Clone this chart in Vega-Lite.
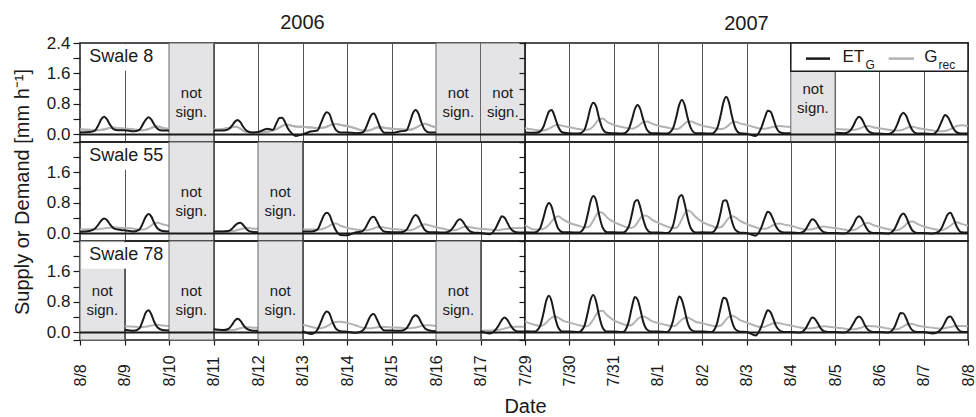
{
"$schema":"https://vega.github.io/schema/vega-lite/v6.json",
"padding":{"left":11,"top":12,"right":0,"bottom":0},
"columns":2,"spacing":0,"bounds":"flush",
"config":{
 "view":{"stroke":"#1a1a1a","strokeWidth":1.5},
 "font":"Liberation Sans",
 "text":{"color":"#1a1a1a"},
 "axis":{"labelColor":"#1a1a1a","titleColor":"#1a1a1a","tickColor":"#1a1a1a","tickWidth":1.2,"titleFontWeight":"normal","titleFontSize":20,"domain":false,"labelFlush":false,"labelOverlap":false,"labelBound":false,"gridColor":"#555555","gridWidth":1,"gridOpacity":1},
 "title":{"fontSize":20,"fontWeight":"normal","color":"#1a1a1a","offset":8,"frame":"group"}
},
"datasets":{
"ns":[
{"p":"8a","a":"2006-08-10 00:00","b":"2006-08-11 00:00","m":"2006-08-10 12:00"},
{"p":"8a","a":"2006-08-16 00:00","b":"2006-08-17 00:00","m":"2006-08-16 12:00"},
{"p":"8a","a":"2006-08-17 00:00","b":"2006-08-18 00:00","m":"2006-08-17 12:00"},
{"p":"8b","a":"2007-08-04 00:00","b":"2007-08-05 00:00","m":"2007-08-04 12:00"},
{"p":"55a","a":"2006-08-10 00:00","b":"2006-08-11 00:00","m":"2006-08-10 12:00"},
{"p":"55a","a":"2006-08-12 00:00","b":"2006-08-13 00:00","m":"2006-08-12 12:00"},
{"p":"78a","a":"2006-08-08 00:00","b":"2006-08-09 00:00","m":"2006-08-08 12:00"},
{"p":"78a","a":"2006-08-10 00:00","b":"2006-08-11 00:00","m":"2006-08-10 12:00"},
{"p":"78a","a":"2006-08-12 00:00","b":"2006-08-13 00:00","m":"2006-08-12 12:00"},
{"p":"78a","a":"2006-08-16 00:00","b":"2006-08-17 00:00","m":"2006-08-16 12:00"}
],
"s8a":[
{"t":"2006-08-08 00:00","e":0.05,"g":0.13,"s":1},{"t":"2006-08-08 05:00","e":0.06,"g":0.12,"s":1},{"t":"2006-08-08 08:00","e":0.1,"g":0.11,"s":1},{"t":"2006-08-08 10:00","e":0.25,"g":0.11,"s":1},{"t":"2006-08-08 11:30","e":0.4,"g":0.12,"s":1},{"t":"2006-08-08 13:00","e":0.46,"g":0.13,"s":1},{"t":"2006-08-08 14:30","e":0.4,"g":0.15,"s":1},{"t":"2006-08-08 16:00","e":0.27,"g":0.17,"s":1},{"t":"2006-08-08 18:00","e":0.14,"g":0.18,"s":1},{"t":"2006-08-08 20:30","e":0.11,"g":0.16,"s":1},
{"t":"2006-08-09 00:00","e":0.11,"g":0.15,"s":1},{"t":"2006-08-09 05:00","e":0.08,"g":0.13,"s":1},{"t":"2006-08-09 08:00","e":0.12,"g":0.11,"s":1},{"t":"2006-08-09 10:00","e":0.27,"g":0.11,"s":1},{"t":"2006-08-09 11:30","e":0.39,"g":0.12,"s":1},{"t":"2006-08-09 13:00","e":0.45,"g":0.14,"s":1},{"t":"2006-08-09 14:30","e":0.39,"g":0.17,"s":1},{"t":"2006-08-09 16:00","e":0.26,"g":0.2,"s":1},{"t":"2006-08-09 18:00","e":0.14,"g":0.21,"s":1},{"t":"2006-08-09 20:30","e":0.1,"g":0.17,"s":1},
{"t":"2006-08-10 00:00","e":0.1,"g":0.14,"s":1},
{"t":"2006-08-11 00:00","e":0.1,"g":0.12,"s":2},{"t":"2006-08-11 05:00","e":0.1,"g":0.14,"s":2},{"t":"2006-08-11 08:00","e":0.13,"g":0.17,"s":2},{"t":"2006-08-11 10:00","e":0.23,"g":0.19,"s":2},{"t":"2006-08-11 11:30","e":0.33,"g":0.2,"s":2},{"t":"2006-08-11 13:00","e":0.38,"g":0.19,"s":2},{"t":"2006-08-11 14:30","e":0.32,"g":0.15,"s":2},{"t":"2006-08-11 16:00","e":0.2,"g":0.1,"s":2},{"t":"2006-08-11 18:00","e":0.09,"g":0.06,"s":2},{"t":"2006-08-11 20:30","e":0.05,"g":0.05,"s":2},
{"t":"2006-08-12 00:00","e":0.06,"g":0.05,"s":2},{"t":"2006-08-12 05:00","e":0.15,"g":0.07,"s":2},{"t":"2006-08-12 08:00","e":0.12,"g":0.1,"s":2},{"t":"2006-08-12 10:00","e":0.3,"g":0.14,"s":2},{"t":"2006-08-12 11:30","e":0.43,"g":0.18,"s":2},{"t":"2006-08-12 13:00","e":0.44,"g":0.22,"s":2},{"t":"2006-08-12 14:30","e":0.33,"g":0.25,"s":2},{"t":"2006-08-12 16:00","e":0.17,"g":0.25,"s":2},{"t":"2006-08-12 18:00","e":0.04,"g":0.23,"s":2},{"t":"2006-08-12 20:30","e":-0.04,"g":0.21,"s":2},
{"t":"2006-08-13 00:00","e":0.0,"g":0.2,"s":2},{"t":"2006-08-13 05:00","e":0.08,"g":0.18,"s":2},{"t":"2006-08-13 08:00","e":0.1,"g":0.17,"s":2},{"t":"2006-08-13 10:00","e":0.3,"g":0.17,"s":2},{"t":"2006-08-13 11:30","e":0.48,"g":0.18,"s":2},{"t":"2006-08-13 13:00","e":0.58,"g":0.2,"s":2},{"t":"2006-08-13 14:30","e":0.54,"g":0.23,"s":2},{"t":"2006-08-13 16:00","e":0.33,"g":0.26,"s":2},{"t":"2006-08-13 18:00","e":0.12,"g":0.27,"s":2},{"t":"2006-08-13 20:30","e":0.05,"g":0.25,"s":2},
{"t":"2006-08-14 00:00","e":0.05,"g":0.22,"s":2},{"t":"2006-08-14 05:00","e":0.03,"g":0.15,"s":2},{"t":"2006-08-14 08:00","e":0.04,"g":0.1,"s":2},{"t":"2006-08-14 10:00","e":0.15,"g":0.09,"s":2},{"t":"2006-08-14 11:30","e":0.33,"g":0.1,"s":2},{"t":"2006-08-14 13:00","e":0.5,"g":0.12,"s":2},{"t":"2006-08-14 14:30","e":0.55,"g":0.15,"s":2},{"t":"2006-08-14 16:00","e":0.42,"g":0.18,"s":2},{"t":"2006-08-14 18:00","e":0.17,"g":0.19,"s":2},{"t":"2006-08-14 20:30","e":0.04,"g":0.17,"s":2},
{"t":"2006-08-15 00:00","e":0.04,"g":0.15,"s":2},{"t":"2006-08-15 05:00","e":0.08,"g":0.13,"s":2},{"t":"2006-08-15 08:00","e":0.1,"g":0.12,"s":2},{"t":"2006-08-15 10:00","e":0.33,"g":0.12,"s":2},{"t":"2006-08-15 11:30","e":0.55,"g":0.14,"s":2},{"t":"2006-08-15 13:00","e":0.64,"g":0.17,"s":2},{"t":"2006-08-15 14:30","e":0.55,"g":0.21,"s":2},{"t":"2006-08-15 16:00","e":0.33,"g":0.25,"s":2},{"t":"2006-08-15 18:00","e":0.12,"g":0.28,"s":2},{"t":"2006-08-15 20:30","e":0.05,"g":0.24,"s":2},
{"t":"2006-08-16 00:00","e":0.05,"g":0.18,"s":2}
],
"s8b":[
{"t":"2007-07-29 00:00","e":0.05,"g":0.16,"s":1},{"t":"2007-07-29 05:00","e":0.04,"g":0.12,"s":1},{"t":"2007-07-29 08:00","e":0.07,"g":0.1,"s":1},{"t":"2007-07-29 10:00","e":0.2,"g":0.1,"s":1},{"t":"2007-07-29 11:30","e":0.41,"g":0.12,"s":1},{"t":"2007-07-29 13:00","e":0.6,"g":0.15,"s":1},{"t":"2007-07-29 14:30","e":0.64,"g":0.19,"s":1},{"t":"2007-07-29 16:00","e":0.48,"g":0.23,"s":1},{"t":"2007-07-29 18:00","e":0.2,"g":0.25,"s":1},{"t":"2007-07-29 20:30","e":0.05,"g":0.22,"s":1},
{"t":"2007-07-30 00:00","e":0.03,"g":0.19,"s":1},{"t":"2007-07-30 05:00","e":0.02,"g":0.14,"s":1},{"t":"2007-07-30 08:00","e":0.1,"g":0.12,"s":1},{"t":"2007-07-30 10:00","e":0.4,"g":0.12,"s":1},{"t":"2007-07-30 11:30","e":0.7,"g":0.15,"s":1},{"t":"2007-07-30 13:00","e":0.83,"g":0.21,"s":1},{"t":"2007-07-30 14:30","e":0.74,"g":0.3,"s":1},{"t":"2007-07-30 16:00","e":0.45,"g":0.39,"s":1},{"t":"2007-07-30 18:00","e":0.15,"g":0.42,"s":1},{"t":"2007-07-30 20:30","e":0.04,"g":0.33,"s":1},
{"t":"2007-07-31 00:00","e":0.03,"g":0.25,"s":1},{"t":"2007-07-31 05:00","e":0.02,"g":0.19,"s":1},{"t":"2007-07-31 08:00","e":0.12,"g":0.16,"s":1},{"t":"2007-07-31 10:00","e":0.4,"g":0.15,"s":1},{"t":"2007-07-31 11:30","e":0.66,"g":0.17,"s":1},{"t":"2007-07-31 13:00","e":0.77,"g":0.21,"s":1},{"t":"2007-07-31 14:30","e":0.66,"g":0.27,"s":1},{"t":"2007-07-31 16:00","e":0.4,"g":0.32,"s":1},{"t":"2007-07-31 18:00","e":0.13,"g":0.34,"s":1},{"t":"2007-07-31 20:30","e":0.03,"g":0.29,"s":1},
{"t":"2007-08-01 00:00","e":0.03,"g":0.23,"s":1},{"t":"2007-08-01 05:00","e":0.02,"g":0.18,"s":1},{"t":"2007-08-01 08:00","e":0.14,"g":0.15,"s":1},{"t":"2007-08-01 10:00","e":0.46,"g":0.14,"s":1},{"t":"2007-08-01 11:30","e":0.77,"g":0.16,"s":1},{"t":"2007-08-01 13:00","e":0.9,"g":0.21,"s":1},{"t":"2007-08-01 14:30","e":0.77,"g":0.28,"s":1},{"t":"2007-08-01 16:00","e":0.46,"g":0.33,"s":1},{"t":"2007-08-01 18:00","e":0.15,"g":0.34,"s":1},{"t":"2007-08-01 20:30","e":0.03,"g":0.29,"s":1},
{"t":"2007-08-02 00:00","e":0.03,"g":0.23,"s":1},{"t":"2007-08-02 05:00","e":0.02,"g":0.18,"s":1},{"t":"2007-08-02 08:00","e":0.15,"g":0.15,"s":1},{"t":"2007-08-02 10:00","e":0.5,"g":0.14,"s":1},{"t":"2007-08-02 11:30","e":0.84,"g":0.15,"s":1},{"t":"2007-08-02 13:00","e":0.99,"g":0.19,"s":1},{"t":"2007-08-02 14:30","e":0.84,"g":0.25,"s":1},{"t":"2007-08-02 16:00","e":0.5,"g":0.31,"s":1},{"t":"2007-08-02 18:00","e":0.16,"g":0.33,"s":1},{"t":"2007-08-02 20:30","e":0.03,"g":0.29,"s":1},
{"t":"2007-08-03 00:00","e":0.02,"g":0.25,"s":1},{"t":"2007-08-03 05:00","e":-0.04,"g":0.18,"s":1},{"t":"2007-08-03 08:00","e":0.17,"g":0.15,"s":1},{"t":"2007-08-03 10:00","e":0.45,"g":0.15,"s":1},{"t":"2007-08-03 11:30","e":0.62,"g":0.16,"s":1},{"t":"2007-08-03 13:00","e":0.6,"g":0.18,"s":1},{"t":"2007-08-03 14:30","e":0.42,"g":0.2,"s":1},{"t":"2007-08-03 16:00","e":0.2,"g":0.21,"s":1},{"t":"2007-08-03 18:00","e":0.06,"g":0.22,"s":1},{"t":"2007-08-03 20:30","e":0.03,"g":0.21,"s":1},
{"t":"2007-08-04 00:00","e":0.03,"g":0.2,"s":1},
{"t":"2007-08-05 00:00","e":0.04,"g":0.14,"s":2},{"t":"2007-08-05 05:00","e":0.03,"g":0.13,"s":2},{"t":"2007-08-05 08:00","e":0.09,"g":0.12,"s":2},{"t":"2007-08-05 10:00","e":0.24,"g":0.12,"s":2},{"t":"2007-08-05 11:30","e":0.39,"g":0.13,"s":2},{"t":"2007-08-05 13:00","e":0.46,"g":0.15,"s":2},{"t":"2007-08-05 14:30","e":0.4,"g":0.18,"s":2},{"t":"2007-08-05 16:00","e":0.25,"g":0.21,"s":2},{"t":"2007-08-05 18:00","e":0.09,"g":0.22,"s":2},{"t":"2007-08-05 20:30","e":0.03,"g":0.19,"s":2},
{"t":"2007-08-06 00:00","e":0.02,"g":0.16,"s":2},{"t":"2007-08-06 05:00","e":0.01,"g":0.12,"s":2},{"t":"2007-08-06 08:00","e":0.1,"g":0.1,"s":2},{"t":"2007-08-06 10:00","e":0.3,"g":0.1,"s":2},{"t":"2007-08-06 11:30","e":0.49,"g":0.11,"s":2},{"t":"2007-08-06 13:00","e":0.57,"g":0.13,"s":2},{"t":"2007-08-06 14:30","e":0.49,"g":0.16,"s":2},{"t":"2007-08-06 16:00","e":0.3,"g":0.19,"s":2},{"t":"2007-08-06 18:00","e":0.1,"g":0.2,"s":2},{"t":"2007-08-06 20:30","e":0.02,"g":0.17,"s":2},
{"t":"2007-08-07 00:00","e":0.02,"g":0.14,"s":2},{"t":"2007-08-07 05:00","e":0.01,"g":0.1,"s":2},{"t":"2007-08-07 08:00","e":0.15,"g":0.08,"s":2},{"t":"2007-08-07 10:00","e":0.37,"g":0.08,"s":2},{"t":"2007-08-07 11:30","e":0.51,"g":0.09,"s":2},{"t":"2007-08-07 13:00","e":0.46,"g":0.11,"s":2},{"t":"2007-08-07 14:30","e":0.32,"g":0.14,"s":2},{"t":"2007-08-07 16:00","e":0.16,"g":0.18,"s":2},{"t":"2007-08-07 18:00","e":0.05,"g":0.22,"s":2},{"t":"2007-08-07 20:30","e":0.02,"g":0.24,"s":2},
{"t":"2007-08-08 00:00","e":0.02,"g":0.22,"s":2}
],
"s55a":[
{"t":"2006-08-08 00:00","e":0.04,"g":0.1,"s":1},{"t":"2006-08-08 05:00","e":0.06,"g":0.11,"s":1},{"t":"2006-08-08 08:00","e":0.12,"g":0.11,"s":1},{"t":"2006-08-08 10:00","e":0.24,"g":0.11,"s":1},{"t":"2006-08-08 11:30","e":0.34,"g":0.12,"s":1},{"t":"2006-08-08 13:00","e":0.39,"g":0.13,"s":1},{"t":"2006-08-08 14:30","e":0.35,"g":0.14,"s":1},{"t":"2006-08-08 16:00","e":0.25,"g":0.15,"s":1},{"t":"2006-08-08 18:00","e":0.14,"g":0.16,"s":1},{"t":"2006-08-08 20:30","e":0.1,"g":0.15,"s":1},
{"t":"2006-08-09 00:00","e":0.08,"g":0.14,"s":1},{"t":"2006-08-09 05:00","e":0.05,"g":0.12,"s":1},{"t":"2006-08-09 08:00","e":0.1,"g":0.1,"s":1},{"t":"2006-08-09 10:00","e":0.28,"g":0.1,"s":1},{"t":"2006-08-09 11:30","e":0.44,"g":0.12,"s":1},{"t":"2006-08-09 13:00","e":0.51,"g":0.16,"s":1},{"t":"2006-08-09 14:30","e":0.44,"g":0.21,"s":1},{"t":"2006-08-09 16:00","e":0.28,"g":0.26,"s":1},{"t":"2006-08-09 18:00","e":0.12,"g":0.28,"s":1},{"t":"2006-08-09 20:30","e":0.06,"g":0.24,"s":1},
{"t":"2006-08-10 00:00","e":0.05,"g":0.2,"s":1},
{"t":"2006-08-11 00:00","e":0.05,"g":0.05,"s":2},{"t":"2006-08-11 05:00","e":0.05,"g":0.05,"s":2},{"t":"2006-08-11 08:00","e":0.06,"g":0.05,"s":2},{"t":"2006-08-11 10:00","e":0.12,"g":0.06,"s":2},{"t":"2006-08-11 11:30","e":0.2,"g":0.07,"s":2},{"t":"2006-08-11 13:00","e":0.26,"g":0.09,"s":2},{"t":"2006-08-11 14:30","e":0.28,"g":0.11,"s":2},{"t":"2006-08-11 16:00","e":0.22,"g":0.13,"s":2},{"t":"2006-08-11 18:00","e":0.1,"g":0.15,"s":2},{"t":"2006-08-11 20:30","e":0.04,"g":0.13,"s":2},
{"t":"2006-08-12 00:00","e":0.03,"g":0.12,"s":2},
{"t":"2006-08-13 00:00","e":0.05,"g":0.1,"s":3},{"t":"2006-08-13 05:00","e":0.05,"g":0.1,"s":3},{"t":"2006-08-13 08:00","e":0.1,"g":0.1,"s":3},{"t":"2006-08-13 10:00","e":0.3,"g":0.11,"s":3},{"t":"2006-08-13 11:30","e":0.47,"g":0.13,"s":3},{"t":"2006-08-13 13:00","e":0.54,"g":0.16,"s":3},{"t":"2006-08-13 14:30","e":0.49,"g":0.2,"s":3},{"t":"2006-08-13 16:00","e":0.3,"g":0.24,"s":3},{"t":"2006-08-13 18:00","e":0.08,"g":0.26,"s":3},{"t":"2006-08-13 20:30","e":-0.04,"g":0.2,"s":3},
{"t":"2006-08-14 00:00","e":-0.05,"g":0.15,"s":3},{"t":"2006-08-14 05:00","e":0.03,"g":0.1,"s":3},{"t":"2006-08-14 08:00","e":0.05,"g":0.08,"s":3},{"t":"2006-08-14 10:00","e":0.15,"g":0.08,"s":3},{"t":"2006-08-14 11:30","e":0.29,"g":0.09,"s":3},{"t":"2006-08-14 13:00","e":0.41,"g":0.11,"s":3},{"t":"2006-08-14 14:30","e":0.44,"g":0.13,"s":3},{"t":"2006-08-14 16:00","e":0.33,"g":0.16,"s":3},{"t":"2006-08-14 18:00","e":0.14,"g":0.17,"s":3},{"t":"2006-08-14 20:30","e":0.04,"g":0.15,"s":3},
{"t":"2006-08-15 00:00","e":0.03,"g":0.12,"s":3},{"t":"2006-08-15 05:00","e":0.03,"g":0.1,"s":3},{"t":"2006-08-15 08:00","e":0.09,"g":0.08,"s":3},{"t":"2006-08-15 10:00","e":0.26,"g":0.08,"s":3},{"t":"2006-08-15 11:30","e":0.41,"g":0.1,"s":3},{"t":"2006-08-15 13:00","e":0.48,"g":0.13,"s":3},{"t":"2006-08-15 14:30","e":0.42,"g":0.17,"s":3},{"t":"2006-08-15 16:00","e":0.26,"g":0.21,"s":3},{"t":"2006-08-15 18:00","e":0.09,"g":0.24,"s":3},{"t":"2006-08-15 20:30","e":0.03,"g":0.21,"s":3},
{"t":"2006-08-16 00:00","e":0.03,"g":0.16,"s":3},{"t":"2006-08-16 05:00","e":0.02,"g":0.11,"s":3},{"t":"2006-08-16 08:00","e":0.08,"g":0.08,"s":3},{"t":"2006-08-16 10:00","e":0.21,"g":0.08,"s":3},{"t":"2006-08-16 11:30","e":0.33,"g":0.1,"s":3},{"t":"2006-08-16 13:00","e":0.37,"g":0.13,"s":3},{"t":"2006-08-16 14:30","e":0.31,"g":0.16,"s":3},{"t":"2006-08-16 16:00","e":0.19,"g":0.18,"s":3},{"t":"2006-08-16 18:00","e":0.07,"g":0.17,"s":3},{"t":"2006-08-16 20:30","e":0.02,"g":0.14,"s":3},
{"t":"2006-08-17 00:00","e":0.01,"g":0.12,"s":3},{"t":"2006-08-17 05:00","e":-0.02,"g":0.1,"s":3},{"t":"2006-08-17 08:00","e":0.12,"g":0.09,"s":3},{"t":"2006-08-17 10:00","e":0.32,"g":0.09,"s":3},{"t":"2006-08-17 11:30","e":0.45,"g":0.1,"s":3},{"t":"2006-08-17 13:00","e":0.41,"g":0.11,"s":3},{"t":"2006-08-17 14:30","e":0.28,"g":0.12,"s":3},{"t":"2006-08-17 16:00","e":0.14,"g":0.13,"s":3},{"t":"2006-08-17 18:00","e":0.05,"g":0.14,"s":3},{"t":"2006-08-17 20:30","e":0.02,"g":0.14,"s":3},
{"t":"2006-08-18 00:00","e":0.02,"g":0.14,"s":3}
],
"s55b":[
{"t":"2007-07-29 00:00","e":0.03,"g":0.22,"s":1},{"t":"2007-07-29 05:00","e":0.02,"g":0.1,"s":1},{"t":"2007-07-29 08:00","e":0.12,"g":0.1,"s":1},{"t":"2007-07-29 10:00","e":0.41,"g":0.12,"s":1},{"t":"2007-07-29 11:30","e":0.68,"g":0.16,"s":1},{"t":"2007-07-29 13:00","e":0.8,"g":0.23,"s":1},{"t":"2007-07-29 14:30","e":0.69,"g":0.32,"s":1},{"t":"2007-07-29 16:00","e":0.41,"g":0.4,"s":1},{"t":"2007-07-29 18:00","e":0.13,"g":0.45,"s":1},{"t":"2007-07-29 20:30","e":0.03,"g":0.37,"s":1},
{"t":"2007-07-30 00:00","e":0.03,"g":0.28,"s":1},{"t":"2007-07-30 05:00","e":0.02,"g":0.2,"s":1},{"t":"2007-07-30 08:00","e":0.15,"g":0.16,"s":1},{"t":"2007-07-30 10:00","e":0.5,"g":0.16,"s":1},{"t":"2007-07-30 11:30","e":0.83,"g":0.22,"s":1},{"t":"2007-07-30 13:00","e":0.98,"g":0.34,"s":1},{"t":"2007-07-30 14:30","e":0.87,"g":0.47,"s":1},{"t":"2007-07-30 16:00","e":0.52,"g":0.56,"s":1},{"t":"2007-07-30 18:00","e":0.16,"g":0.54,"s":1},{"t":"2007-07-30 20:30","e":0.03,"g":0.42,"s":1},
{"t":"2007-07-31 00:00","e":0.03,"g":0.3,"s":1},{"t":"2007-07-31 05:00","e":0.02,"g":0.2,"s":1},{"t":"2007-07-31 08:00","e":0.16,"g":0.15,"s":1},{"t":"2007-07-31 10:00","e":0.52,"g":0.15,"s":1},{"t":"2007-07-31 11:30","e":0.83,"g":0.19,"s":1},{"t":"2007-07-31 13:00","e":0.88,"g":0.29,"s":1},{"t":"2007-07-31 14:30","e":0.68,"g":0.4,"s":1},{"t":"2007-07-31 16:00","e":0.38,"g":0.47,"s":1},{"t":"2007-07-31 18:00","e":0.11,"g":0.46,"s":1},{"t":"2007-07-31 20:30","e":0.02,"g":0.37,"s":1},
{"t":"2007-08-01 00:00","e":0.02,"g":0.28,"s":1},{"t":"2007-08-01 05:00","e":0.01,"g":0.18,"s":1},{"t":"2007-08-01 08:00","e":0.18,"g":0.14,"s":1},{"t":"2007-08-01 10:00","e":0.6,"g":0.15,"s":1},{"t":"2007-08-01 11:30","e":0.95,"g":0.23,"s":1},{"t":"2007-08-01 13:00","e":1.01,"g":0.38,"s":1},{"t":"2007-08-01 14:30","e":0.78,"g":0.52,"s":1},{"t":"2007-08-01 16:00","e":0.43,"g":0.61,"s":1},{"t":"2007-08-01 18:00","e":0.12,"g":0.56,"s":1},{"t":"2007-08-01 20:30","e":0.02,"g":0.43,"s":1},
{"t":"2007-08-02 00:00","e":0.03,"g":0.3,"s":1},{"t":"2007-08-02 05:00","e":0.02,"g":0.2,"s":1},{"t":"2007-08-02 08:00","e":0.18,"g":0.15,"s":1},{"t":"2007-08-02 10:00","e":0.55,"g":0.16,"s":1},{"t":"2007-08-02 11:30","e":0.86,"g":0.22,"s":1},{"t":"2007-08-02 13:00","e":0.87,"g":0.32,"s":1},{"t":"2007-08-02 14:30","e":0.65,"g":0.41,"s":1},{"t":"2007-08-02 16:00","e":0.34,"g":0.45,"s":1},{"t":"2007-08-02 18:00","e":0.09,"g":0.42,"s":1},{"t":"2007-08-02 20:30","e":0.02,"g":0.33,"s":1},
{"t":"2007-08-03 00:00","e":0.01,"g":0.25,"s":1},{"t":"2007-08-03 05:00","e":-0.06,"g":0.16,"s":1},{"t":"2007-08-03 08:00","e":0.15,"g":0.12,"s":1},{"t":"2007-08-03 10:00","e":0.42,"g":0.12,"s":1},{"t":"2007-08-03 11:30","e":0.57,"g":0.14,"s":1},{"t":"2007-08-03 13:00","e":0.52,"g":0.18,"s":1},{"t":"2007-08-03 14:30","e":0.36,"g":0.22,"s":1},{"t":"2007-08-03 16:00","e":0.18,"g":0.25,"s":1},{"t":"2007-08-03 18:00","e":0.06,"g":0.26,"s":1},{"t":"2007-08-03 20:30","e":0.02,"g":0.23,"s":1},
{"t":"2007-08-04 00:00","e":0.02,"g":0.2,"s":1},{"t":"2007-08-04 05:00","e":0.01,"g":0.13,"s":1},{"t":"2007-08-04 08:00","e":0.1,"g":0.1,"s":1},{"t":"2007-08-04 10:00","e":0.27,"g":0.1,"s":1},{"t":"2007-08-04 11:30","e":0.37,"g":0.11,"s":1},{"t":"2007-08-04 13:00","e":0.34,"g":0.13,"s":1},{"t":"2007-08-04 14:30","e":0.23,"g":0.15,"s":1},{"t":"2007-08-04 16:00","e":0.11,"g":0.17,"s":1},{"t":"2007-08-04 18:00","e":0.03,"g":0.18,"s":1},{"t":"2007-08-04 20:30","e":0.01,"g":0.16,"s":1},
{"t":"2007-08-05 00:00","e":0.01,"g":0.14,"s":1},{"t":"2007-08-05 05:00","e":0.0,"g":0.1,"s":1},{"t":"2007-08-05 08:00","e":0.08,"g":0.08,"s":1},{"t":"2007-08-05 10:00","e":0.24,"g":0.09,"s":1},{"t":"2007-08-05 11:30","e":0.39,"g":0.11,"s":1},{"t":"2007-08-05 13:00","e":0.45,"g":0.16,"s":1},{"t":"2007-08-05 14:30","e":0.38,"g":0.21,"s":1},{"t":"2007-08-05 16:00","e":0.23,"g":0.26,"s":1},{"t":"2007-08-05 18:00","e":0.07,"g":0.27,"s":1},{"t":"2007-08-05 20:30","e":0.01,"g":0.22,"s":1},
{"t":"2007-08-06 00:00","e":0.01,"g":0.17,"s":1},{"t":"2007-08-06 05:00","e":0.0,"g":0.11,"s":1},{"t":"2007-08-06 08:00","e":0.1,"g":0.08,"s":1},{"t":"2007-08-06 10:00","e":0.3,"g":0.09,"s":1},{"t":"2007-08-06 11:30","e":0.46,"g":0.12,"s":1},{"t":"2007-08-06 13:00","e":0.52,"g":0.17,"s":1},{"t":"2007-08-06 14:30","e":0.43,"g":0.24,"s":1},{"t":"2007-08-06 16:00","e":0.25,"g":0.3,"s":1},{"t":"2007-08-06 18:00","e":0.07,"g":0.31,"s":1},{"t":"2007-08-06 20:30","e":0.01,"g":0.25,"s":1},
{"t":"2007-08-07 00:00","e":0.01,"g":0.18,"s":1},{"t":"2007-08-07 05:00","e":0.0,"g":0.12,"s":1},{"t":"2007-08-07 08:00","e":0.04,"g":0.09,"s":1},{"t":"2007-08-07 10:00","e":0.17,"g":0.09,"s":1},{"t":"2007-08-07 11:30","e":0.34,"g":0.11,"s":1},{"t":"2007-08-07 13:00","e":0.5,"g":0.15,"s":1},{"t":"2007-08-07 14:30","e":0.54,"g":0.2,"s":1},{"t":"2007-08-07 16:00","e":0.41,"g":0.26,"s":1},{"t":"2007-08-07 18:00","e":0.17,"g":0.29,"s":1},{"t":"2007-08-07 20:30","e":0.03,"g":0.25,"s":1},
{"t":"2007-08-08 00:00","e":0.02,"g":0.2,"s":1}
],
"s78a":[
{"t":"2006-08-09 00:00","e":0.07,"g":0.16,"s":1},{"t":"2006-08-09 05:00","e":0.04,"g":0.15,"s":1},{"t":"2006-08-09 08:00","e":0.1,"g":0.14,"s":1},{"t":"2006-08-09 10:00","e":0.33,"g":0.14,"s":1},{"t":"2006-08-09 11:30","e":0.52,"g":0.15,"s":1},{"t":"2006-08-09 13:00","e":0.58,"g":0.16,"s":1},{"t":"2006-08-09 14:30","e":0.47,"g":0.18,"s":1},{"t":"2006-08-09 16:00","e":0.28,"g":0.19,"s":1},{"t":"2006-08-09 18:00","e":0.12,"g":0.2,"s":1},{"t":"2006-08-09 20:30","e":0.06,"g":0.18,"s":1},
{"t":"2006-08-10 00:00","e":0.05,"g":0.17,"s":1},
{"t":"2006-08-11 00:00","e":0.08,"g":0.06,"s":2},{"t":"2006-08-11 05:00","e":0.06,"g":0.05,"s":2},{"t":"2006-08-11 08:00","e":0.09,"g":0.05,"s":2},{"t":"2006-08-11 10:00","e":0.2,"g":0.06,"s":2},{"t":"2006-08-11 11:30","e":0.31,"g":0.07,"s":2},{"t":"2006-08-11 13:00","e":0.36,"g":0.09,"s":2},{"t":"2006-08-11 14:30","e":0.31,"g":0.11,"s":2},{"t":"2006-08-11 16:00","e":0.2,"g":0.13,"s":2},{"t":"2006-08-11 18:00","e":0.09,"g":0.14,"s":2},{"t":"2006-08-11 20:30","e":0.05,"g":0.13,"s":2},
{"t":"2006-08-12 00:00","e":0.04,"g":0.12,"s":2},
{"t":"2006-08-13 00:00","e":0.03,"g":0.2,"s":3},{"t":"2006-08-13 05:00","e":-0.04,"g":0.14,"s":3},{"t":"2006-08-13 08:00","e":0.07,"g":0.11,"s":3},{"t":"2006-08-13 10:00","e":0.28,"g":0.11,"s":3},{"t":"2006-08-13 11:30","e":0.46,"g":0.13,"s":3},{"t":"2006-08-13 13:00","e":0.55,"g":0.16,"s":3},{"t":"2006-08-13 14:30","e":0.5,"g":0.2,"s":3},{"t":"2006-08-13 16:00","e":0.3,"g":0.24,"s":3},{"t":"2006-08-13 18:00","e":0.1,"g":0.27,"s":3},{"t":"2006-08-13 20:30","e":0.03,"g":0.28,"s":3},
{"t":"2006-08-14 00:00","e":0.02,"g":0.25,"s":3},{"t":"2006-08-14 05:00","e":-0.01,"g":0.18,"s":3},{"t":"2006-08-14 08:00","e":0.03,"g":0.13,"s":3},{"t":"2006-08-14 10:00","e":0.15,"g":0.11,"s":3},{"t":"2006-08-14 11:30","e":0.32,"g":0.11,"s":3},{"t":"2006-08-14 13:00","e":0.45,"g":0.11,"s":3},{"t":"2006-08-14 14:30","e":0.48,"g":0.12,"s":3},{"t":"2006-08-14 16:00","e":0.36,"g":0.13,"s":3},{"t":"2006-08-14 18:00","e":0.15,"g":0.14,"s":3},{"t":"2006-08-14 20:30","e":0.05,"g":0.14,"s":3},
{"t":"2006-08-15 00:00","e":0.05,"g":0.13,"s":3},{"t":"2006-08-15 05:00","e":0.04,"g":0.12,"s":3},{"t":"2006-08-15 08:00","e":0.1,"g":0.11,"s":3},{"t":"2006-08-15 10:00","e":0.26,"g":0.11,"s":3},{"t":"2006-08-15 11:30","e":0.4,"g":0.12,"s":3},{"t":"2006-08-15 13:00","e":0.45,"g":0.13,"s":3},{"t":"2006-08-15 14:30","e":0.4,"g":0.15,"s":3},{"t":"2006-08-15 16:00","e":0.26,"g":0.17,"s":3},{"t":"2006-08-15 18:00","e":0.11,"g":0.19,"s":3},{"t":"2006-08-15 20:30","e":0.05,"g":0.19,"s":3},
{"t":"2006-08-16 00:00","e":0.03,"g":0.17,"s":3},
{"t":"2006-08-17 00:00","e":0.04,"g":0.05,"s":4},{"t":"2006-08-17 05:00","e":-0.03,"g":0.05,"s":4},{"t":"2006-08-17 08:00","e":0.06,"g":0.06,"s":4},{"t":"2006-08-17 10:00","e":0.2,"g":0.07,"s":4},{"t":"2006-08-17 11:30","e":0.33,"g":0.08,"s":4},{"t":"2006-08-17 13:00","e":0.39,"g":0.1,"s":4},{"t":"2006-08-17 14:30","e":0.33,"g":0.12,"s":4},{"t":"2006-08-17 16:00","e":0.2,"g":0.14,"s":4},{"t":"2006-08-17 18:00","e":0.07,"g":0.15,"s":4},{"t":"2006-08-17 20:30","e":0.02,"g":0.15,"s":4},
{"t":"2006-08-18 00:00","e":0.02,"g":0.15,"s":4}
],
"s78b":[
{"t":"2007-07-29 00:00","e":0.03,"g":0.29,"s":1},{"t":"2007-07-29 05:00","e":0.02,"g":0.2,"s":1},{"t":"2007-07-29 08:00","e":0.15,"g":0.17,"s":1},{"t":"2007-07-29 10:00","e":0.5,"g":0.19,"s":1},{"t":"2007-07-29 11:30","e":0.83,"g":0.25,"s":1},{"t":"2007-07-29 13:00","e":0.96,"g":0.33,"s":1},{"t":"2007-07-29 14:30","e":0.8,"g":0.39,"s":1},{"t":"2007-07-29 16:00","e":0.46,"g":0.42,"s":1},{"t":"2007-07-29 18:00","e":0.13,"g":0.39,"s":1},{"t":"2007-07-29 20:30","e":0.02,"g":0.31,"s":1},
{"t":"2007-07-30 00:00","e":0.02,"g":0.26,"s":1},{"t":"2007-07-30 05:00","e":0.01,"g":0.19,"s":1},{"t":"2007-07-30 08:00","e":0.15,"g":0.16,"s":1},{"t":"2007-07-30 10:00","e":0.52,"g":0.17,"s":1},{"t":"2007-07-30 11:30","e":0.85,"g":0.23,"s":1},{"t":"2007-07-30 13:00","e":0.98,"g":0.34,"s":1},{"t":"2007-07-30 14:30","e":0.82,"g":0.46,"s":1},{"t":"2007-07-30 16:00","e":0.47,"g":0.55,"s":1},{"t":"2007-07-30 18:00","e":0.13,"g":0.57,"s":1},{"t":"2007-07-30 20:30","e":0.02,"g":0.45,"s":1},
{"t":"2007-07-31 00:00","e":0.02,"g":0.32,"s":1},{"t":"2007-07-31 05:00","e":0.01,"g":0.22,"s":1},{"t":"2007-07-31 08:00","e":0.25,"g":0.18,"s":1},{"t":"2007-07-31 10:00","e":0.68,"g":0.2,"s":1},{"t":"2007-07-31 11:30","e":0.93,"g":0.27,"s":1},{"t":"2007-07-31 13:00","e":0.86,"g":0.35,"s":1},{"t":"2007-07-31 14:30","e":0.6,"g":0.4,"s":1},{"t":"2007-07-31 16:00","e":0.29,"g":0.42,"s":1},{"t":"2007-07-31 18:00","e":0.08,"g":0.38,"s":1},{"t":"2007-07-31 20:30","e":0.02,"g":0.3,"s":1},
{"t":"2007-08-01 00:00","e":0.02,"g":0.25,"s":1},{"t":"2007-08-01 05:00","e":0.01,"g":0.19,"s":1},{"t":"2007-08-01 08:00","e":0.27,"g":0.16,"s":1},{"t":"2007-08-01 10:00","e":0.7,"g":0.19,"s":1},{"t":"2007-08-01 11:30","e":0.94,"g":0.27,"s":1},{"t":"2007-08-01 13:00","e":0.85,"g":0.34,"s":1},{"t":"2007-08-01 14:30","e":0.58,"g":0.38,"s":1},{"t":"2007-08-01 16:00","e":0.27,"g":0.39,"s":1},{"t":"2007-08-01 18:00","e":0.07,"g":0.35,"s":1},{"t":"2007-08-01 20:30","e":0.02,"g":0.28,"s":1},
{"t":"2007-08-02 00:00","e":0.02,"g":0.24,"s":1},{"t":"2007-08-02 05:00","e":0.01,"g":0.18,"s":1},{"t":"2007-08-02 08:00","e":0.23,"g":0.16,"s":1},{"t":"2007-08-02 10:00","e":0.65,"g":0.18,"s":1},{"t":"2007-08-02 11:30","e":0.91,"g":0.25,"s":1},{"t":"2007-08-02 13:00","e":0.88,"g":0.34,"s":1},{"t":"2007-08-02 14:30","e":0.63,"g":0.41,"s":1},{"t":"2007-08-02 16:00","e":0.31,"g":0.44,"s":1},{"t":"2007-08-02 18:00","e":0.08,"g":0.41,"s":1},{"t":"2007-08-02 20:30","e":0.02,"g":0.32,"s":1},
{"t":"2007-08-03 00:00","e":0.01,"g":0.26,"s":1},{"t":"2007-08-03 05:00","e":-0.08,"g":0.17,"s":1},{"t":"2007-08-03 08:00","e":0.15,"g":0.14,"s":1},{"t":"2007-08-03 10:00","e":0.43,"g":0.15,"s":1},{"t":"2007-08-03 11:30","e":0.58,"g":0.18,"s":1},{"t":"2007-08-03 13:00","e":0.53,"g":0.21,"s":1},{"t":"2007-08-03 14:30","e":0.36,"g":0.24,"s":1},{"t":"2007-08-03 16:00","e":0.17,"g":0.25,"s":1},{"t":"2007-08-03 18:00","e":0.05,"g":0.24,"s":1},{"t":"2007-08-03 20:30","e":0.01,"g":0.21,"s":1},
{"t":"2007-08-04 00:00","e":0.01,"g":0.18,"s":1},{"t":"2007-08-04 05:00","e":0.0,"g":0.13,"s":1},{"t":"2007-08-04 08:00","e":0.1,"g":0.11,"s":1},{"t":"2007-08-04 10:00","e":0.28,"g":0.1,"s":1},{"t":"2007-08-04 11:30","e":0.39,"g":0.11,"s":1},{"t":"2007-08-04 13:00","e":0.36,"g":0.12,"s":1},{"t":"2007-08-04 14:30","e":0.25,"g":0.14,"s":1},{"t":"2007-08-04 16:00","e":0.12,"g":0.15,"s":1},{"t":"2007-08-04 18:00","e":0.03,"g":0.16,"s":1},{"t":"2007-08-04 20:30","e":0.01,"g":0.15,"s":1},
{"t":"2007-08-05 00:00","e":0.01,"g":0.13,"s":1},{"t":"2007-08-05 05:00","e":0.0,"g":0.1,"s":1},{"t":"2007-08-05 08:00","e":0.08,"g":0.08,"s":1},{"t":"2007-08-05 10:00","e":0.24,"g":0.08,"s":1},{"t":"2007-08-05 11:30","e":0.37,"g":0.09,"s":1},{"t":"2007-08-05 13:00","e":0.42,"g":0.11,"s":1},{"t":"2007-08-05 14:30","e":0.35,"g":0.13,"s":1},{"t":"2007-08-05 16:00","e":0.2,"g":0.16,"s":1},{"t":"2007-08-05 18:00","e":0.06,"g":0.17,"s":1},{"t":"2007-08-05 20:30","e":0.01,"g":0.16,"s":1},
{"t":"2007-08-06 00:00","e":0.01,"g":0.14,"s":1},{"t":"2007-08-06 05:00","e":0.0,"g":0.1,"s":1},{"t":"2007-08-06 08:00","e":0.12,"g":0.08,"s":1},{"t":"2007-08-06 10:00","e":0.36,"g":0.09,"s":1},{"t":"2007-08-06 11:30","e":0.51,"g":0.12,"s":1},{"t":"2007-08-06 13:00","e":0.5,"g":0.16,"s":1},{"t":"2007-08-06 14:30","e":0.37,"g":0.2,"s":1},{"t":"2007-08-06 16:00","e":0.19,"g":0.23,"s":1},{"t":"2007-08-06 18:00","e":0.05,"g":0.22,"s":1},{"t":"2007-08-06 20:30","e":0.01,"g":0.18,"s":1},
{"t":"2007-08-07 00:00","e":0.01,"g":0.15,"s":1},{"t":"2007-08-07 05:00","e":-0.03,"g":0.12,"s":1},{"t":"2007-08-07 08:00","e":0.02,"g":0.1,"s":1},{"t":"2007-08-07 10:00","e":0.12,"g":0.1,"s":1},{"t":"2007-08-07 11:30","e":0.26,"g":0.11,"s":1},{"t":"2007-08-07 13:00","e":0.39,"g":0.13,"s":1},{"t":"2007-08-07 14:30","e":0.42,"g":0.14,"s":1},{"t":"2007-08-07 16:00","e":0.32,"g":0.16,"s":1},{"t":"2007-08-07 18:00","e":0.13,"g":0.17,"s":1},{"t":"2007-08-07 20:30","e":0.02,"g":0.17,"s":1},
{"t":"2007-08-08 00:00","e":0.01,"g":0.16,"s":1}
]
},
"concat":[
{"width":445,"height":99,"title":{"text":"2006","offset":1},
 "resolve":{"axis":{"x":"independent","y":"independent"}},
 "layer":[
  {"data":{"name":"s8a"},"mark":{"type":"line","color":"#b3b3b3","strokeWidth":2,"interpolate":"monotone"},
   "encoding":{"x":{"field":"t","type":"temporal","scale":{"domain":[{"year":2006,"month":8,"date":8},{"year":2006,"month":8,"date":18}]},
     "axis":{"orient":"bottom","values":[{"year":2006,"month":8,"date":8},{"year":2006,"month":8,"date":9},{"year":2006,"month":8,"date":10},{"year":2006,"month":8,"date":11},{"year":2006,"month":8,"date":12},{"year":2006,"month":8,"date":13},{"year":2006,"month":8,"date":14},{"year":2006,"month":8,"date":15},{"year":2006,"month":8,"date":16},{"year":2006,"month":8,"date":17}],"labels":false,"ticks":false,"grid":true,"title":null}},
    "y":{"field":"g","type":"quantitative","scale":{"domain":[-0.2,2.4],"nice":false,"zero":false},
     "axis":{"orient":"left","values":[-0.2,0,0.4,0.8,1.2,1.6,2,2.4],"labelExpr":"(datum.value > -0.1 && abs(datum.value/0.8 - round(datum.value/0.8)) < 0.01) ? format(datum.value,'.1f') : ''","labelOverlap":false,"tickSize":7,"labelPadding":3,"labelFontSize":17,"grid":false,"title":null}},
    "detail":{"field":"s","type":"nominal"}}},
  {"data":{"name":"ns"},"transform":[{"filter":"datum.p == '8a'"}],"mark":{"type":"rect","fill":"#e4e4e6","stroke":"#666666","strokeWidth":1},
   "encoding":{"x":{"field":"a","type":"temporal","axis":null},"x2":{"field":"b"},"y":{"datum":-0.2,"type":"quantitative","axis":null},"y2":{"datum":2.4}}},
  {"data":{"name":"s8a"},"mark":{"type":"line","color":"#b3b3b3","strokeWidth":2,"interpolate":"monotone"},
   "encoding":{"x":{"field":"t","type":"temporal","axis":null},"y":{"field":"g","type":"quantitative","axis":null},"detail":{"field":"s","type":"nominal"}}},
  {"data":{"values":[{}]},"mark":{"type":"rule","color":"#1a1a1a","strokeWidth":2},"encoding":{"y":{"datum":0,"type":"quantitative","axis":null}}},
  {"data":{"name":"s8a"},"mark":{"type":"line","color":"#1a1a1a","strokeWidth":2,"interpolate":"monotone"},
   "encoding":{"x":{"field":"t","type":"temporal","axis":null},"y":{"field":"e","type":"quantitative","axis":null},"detail":{"field":"s","type":"nominal"}}},
  {"data":{"values":[{}]},"mark":{"type":"rect","fill":"white"},
   "encoding":{"x":{"datum":{"year":2006,"month":8,"date":8,"hours":0,"minutes":40},"type":"temporal","axis":null},"x2":{"datum":{"year":2006,"month":8,"date":9,"hours":21}},"y":{"datum":1.67,"type":"quantitative","axis":null},"y2":{"datum":2.37}}},
  {"data":{"values":[{}]},"mark":{"type":"text","text":"Swale 8","align":"left","baseline":"middle","fontSize":18},
   "encoding":{"x":{"datum":{"year":2006,"month":8,"date":8,"hours":5},"type":"temporal","axis":null},"y":{"datum":2.03,"type":"quantitative","axis":null}}},
  {"data":{"name":"ns"},"transform":[{"filter":"datum.p == '8a'"}],"mark":{"type":"text","text":"not sign.","lineBreak":" ","lineHeight":19,"fontSize":15,"baseline":"middle"},
   "encoding":{"x":{"field":"m","type":"temporal","axis":null},"y":{"datum":1.1,"type":"quantitative","axis":null}}}
 ]},
{"width":443,"height":99,"title":{"text":"2007","offset":8},
 "resolve":{"axis":{"x":"independent","y":"independent"}},
 "layer":[
  {"data":{"name":"s8b"},"mark":{"type":"line","color":"#b3b3b3","strokeWidth":2,"interpolate":"monotone"},
   "encoding":{"x":{"field":"t","type":"temporal","scale":{"domain":[{"year":2007,"month":7,"date":29},{"year":2007,"month":8,"date":8}]},
     "axis":{"orient":"bottom","values":[{"year":2007,"month":7,"date":30},{"year":2007,"month":7,"date":31},{"year":2007,"month":8,"date":1},{"year":2007,"month":8,"date":2},{"year":2007,"month":8,"date":3},{"year":2007,"month":8,"date":4},{"year":2007,"month":8,"date":5},{"year":2007,"month":8,"date":6},{"year":2007,"month":8,"date":7}],"labels":false,"ticks":false,"grid":true,"title":null}},
    "y":{"field":"g","type":"quantitative","scale":{"domain":[-0.2,2.4],"nice":false,"zero":false},
     "axis":{"orient":"left","values":[-0.2,0,0.4,0.8,1.2,1.6,2,2.4],"labels":false,"tickSize":6,"grid":false,"title":null}},
    "detail":{"field":"s","type":"nominal"}}},
  {"data":{"name":"ns"},"transform":[{"filter":"datum.p == '8b'"}],"mark":{"type":"rect","fill":"#e4e4e6","stroke":"#666666","strokeWidth":1},
   "encoding":{"x":{"field":"a","type":"temporal","axis":null},"x2":{"field":"b"},"y":{"datum":-0.2,"type":"quantitative","axis":null},"y2":{"datum":2.4}}},
  {"data":{"values":[{}]},"mark":{"type":"rule","color":"#1a1a1a","strokeWidth":2},"encoding":{"y":{"datum":0,"type":"quantitative","axis":null}}},
  {"data":{"name":"s8b"},"mark":{"type":"line","color":"#1a1a1a","strokeWidth":2,"interpolate":"monotone"},
   "encoding":{"x":{"field":"t","type":"temporal","axis":null},"y":{"field":"e","type":"quantitative","axis":null},"detail":{"field":"s","type":"nominal"}}},
  {"data":{"name":"ns"},"transform":[{"filter":"datum.p == '8b'"}],"mark":{"type":"text","text":"not sign.","lineBreak":" ","lineHeight":19,"fontSize":15,"baseline":"middle"},
   "encoding":{"x":{"field":"m","type":"temporal","axis":null},"y":{"datum":1.2,"type":"quantitative","axis":null}}},
  {"data":{"values":[{}]},"mark":{"type":"rect","fill":"white","stroke":"#1a1a1a","strokeWidth":1.5},
   "encoding":{"x":{"datum":{"year":2007,"month":8,"date":4},"type":"temporal","axis":null},"x2":{"datum":{"year":2007,"month":8,"date":8}},"y":{"datum":1.66,"type":"quantitative","axis":null},"y2":{"datum":2.4}}},
  {"data":{"values":[{}]},"mark":{"type":"rule","color":"#1a1a1a","strokeWidth":2.5},
   "encoding":{"x":{"datum":{"year":2007,"month":8,"date":4,"hours":8,"minutes":15},"type":"temporal","axis":null},"x2":{"datum":{"year":2007,"month":8,"date":4,"hours":21,"minutes":15}},"y":{"datum":1.99,"type":"quantitative","axis":null}}},
  {"data":{"values":[{}]},"mark":{"type":"rule","color":"#b3b3b3","strokeWidth":2.5},
   "encoding":{"x":{"datum":{"year":2007,"month":8,"date":6,"hours":5},"type":"temporal","axis":null},"x2":{"datum":{"year":2007,"month":8,"date":6,"hours":18,"minutes":45}},"y":{"datum":1.99,"type":"quantitative","axis":null}}},
  {"data":{"values":[{}]},"mark":{"type":"text","text":"ET","align":"left","baseline":"middle","fontSize":17},
   "encoding":{"x":{"datum":{"year":2007,"month":8,"date":5,"hours":4},"type":"temporal","axis":null},"y":{"datum":2.04,"type":"quantitative","axis":null}}},
  {"data":{"values":[{}]},"mark":{"type":"text","text":"G","align":"left","baseline":"middle","fontSize":12},
   "encoding":{"x":{"datum":{"year":2007,"month":8,"date":5,"hours":16,"minutes":30},"type":"temporal","axis":null},"y":{"datum":1.81,"type":"quantitative","axis":null}}},
  {"data":{"values":[{}]},"mark":{"type":"text","text":"G","align":"left","baseline":"middle","fontSize":17},
   "encoding":{"x":{"datum":{"year":2007,"month":8,"date":7,"hours":0,"minutes":20},"type":"temporal","axis":null},"y":{"datum":2.04,"type":"quantitative","axis":null}}},
  {"data":{"values":[{}]},"mark":{"type":"text","text":"rec","align":"left","baseline":"middle","fontSize":12},
   "encoding":{"x":{"datum":{"year":2007,"month":8,"date":7,"hours":8},"type":"temporal","axis":null},"y":{"datum":1.83,"type":"quantitative","axis":null}}}
 ]},
{"width":445,"height":99,
 "resolve":{"axis":{"x":"independent","y":"independent"}},
 "layer":[
  {"data":{"name":"s55a"},"mark":{"type":"line","color":"#b3b3b3","strokeWidth":2,"interpolate":"monotone"},
   "encoding":{"x":{"field":"t","type":"temporal","scale":{"domain":[{"year":2006,"month":8,"date":8},{"year":2006,"month":8,"date":18}]},
     "axis":{"orient":"bottom","values":[{"year":2006,"month":8,"date":8},{"year":2006,"month":8,"date":9},{"year":2006,"month":8,"date":10},{"year":2006,"month":8,"date":11},{"year":2006,"month":8,"date":12},{"year":2006,"month":8,"date":13},{"year":2006,"month":8,"date":14},{"year":2006,"month":8,"date":15},{"year":2006,"month":8,"date":16},{"year":2006,"month":8,"date":17}],"labels":false,"ticks":false,"grid":true,"title":null}},
    "y":{"field":"g","type":"quantitative","scale":{"domain":[-0.2,2.4],"nice":false,"zero":false},
     "axis":{"orient":"left","values":[-0.2,0,0.4,0.8,1.2,1.6,2,2.4],"labelExpr":"(datum.value > -0.1 && datum.value < 2.3 && abs(datum.value/0.8 - round(datum.value/0.8)) < 0.01) ? format(datum.value,'.1f') : ''","labelOverlap":false,"tickSize":7,"labelPadding":3,"labelFontSize":17,"grid":false,"title":"Supply or Demand [mm h⁻¹]","titlePadding":14}},
    "detail":{"field":"s","type":"nominal"}}},
  {"data":{"name":"ns"},"transform":[{"filter":"datum.p == '55a'"}],"mark":{"type":"rect","fill":"#e4e4e6","stroke":"#666666","strokeWidth":1},
   "encoding":{"x":{"field":"a","type":"temporal","axis":null},"x2":{"field":"b"},"y":{"datum":-0.2,"type":"quantitative","axis":null},"y2":{"datum":2.4}}},
  {"data":{"values":[{}]},"mark":{"type":"rule","color":"#1a1a1a","strokeWidth":2},"encoding":{"y":{"datum":0,"type":"quantitative","axis":null}}},
  {"data":{"name":"s55a"},"mark":{"type":"line","color":"#1a1a1a","strokeWidth":2,"interpolate":"monotone"},
   "encoding":{"x":{"field":"t","type":"temporal","axis":null},"y":{"field":"e","type":"quantitative","axis":null},"detail":{"field":"s","type":"nominal"}}},
  {"data":{"values":[{}]},"mark":{"type":"rect","fill":"white"},
   "encoding":{"x":{"datum":{"year":2006,"month":8,"date":8,"hours":0,"minutes":40},"type":"temporal","axis":null},"x2":{"datum":{"year":2006,"month":8,"date":9,"hours":21}},"y":{"datum":1.67,"type":"quantitative","axis":null},"y2":{"datum":2.37}}},
  {"data":{"values":[{}]},"mark":{"type":"text","text":"Swale 55","align":"left","baseline":"middle","fontSize":18},
   "encoding":{"x":{"datum":{"year":2006,"month":8,"date":8,"hours":5},"type":"temporal","axis":null},"y":{"datum":2.03,"type":"quantitative","axis":null}}},
  {"data":{"name":"ns"},"transform":[{"filter":"datum.p == '55a'"}],"mark":{"type":"text","text":"not sign.","lineBreak":" ","lineHeight":19,"fontSize":15,"baseline":"middle"},
   "encoding":{"x":{"field":"m","type":"temporal","axis":null},"y":{"datum":1.1,"type":"quantitative","axis":null}}}
 ]},
{"width":443,"height":99,
 "resolve":{"axis":{"x":"independent","y":"independent"}},
 "layer":[
  {"data":{"name":"s55b"},"mark":{"type":"line","color":"#b3b3b3","strokeWidth":2,"interpolate":"monotone"},
   "encoding":{"x":{"field":"t","type":"temporal","scale":{"domain":[{"year":2007,"month":7,"date":29},{"year":2007,"month":8,"date":8}]},
     "axis":{"orient":"bottom","values":[{"year":2007,"month":7,"date":30},{"year":2007,"month":7,"date":31},{"year":2007,"month":8,"date":1},{"year":2007,"month":8,"date":2},{"year":2007,"month":8,"date":3},{"year":2007,"month":8,"date":4},{"year":2007,"month":8,"date":5},{"year":2007,"month":8,"date":6},{"year":2007,"month":8,"date":7}],"labels":false,"ticks":false,"grid":true,"title":null}},
    "y":{"field":"g","type":"quantitative","scale":{"domain":[-0.2,2.4],"nice":false,"zero":false},
     "axis":{"orient":"left","values":[-0.2,0,0.4,0.8,1.2,1.6,2,2.4],"labels":false,"tickSize":6,"grid":false,"title":null}},
    "detail":{"field":"s","type":"nominal"}}},
  {"data":{"values":[{}]},"mark":{"type":"rule","color":"#1a1a1a","strokeWidth":2},"encoding":{"y":{"datum":0,"type":"quantitative","axis":null}}},
  {"data":{"name":"s55b"},"mark":{"type":"line","color":"#1a1a1a","strokeWidth":2,"interpolate":"monotone"},
   "encoding":{"x":{"field":"t","type":"temporal","axis":null},"y":{"field":"e","type":"quantitative","axis":null},"detail":{"field":"s","type":"nominal"}}}
 ]},
{"width":445,"height":99,
 "resolve":{"axis":{"x":"independent","y":"independent"}},
 "layer":[
  {"data":{"name":"s78a"},"mark":{"type":"line","color":"#b3b3b3","strokeWidth":2,"interpolate":"monotone"},
   "encoding":{"x":{"field":"t","type":"temporal","scale":{"domain":[{"year":2006,"month":8,"date":8},{"year":2006,"month":8,"date":18}]},
     "axis":{"orient":"bottom","values":[{"year":2006,"month":8,"date":8},{"year":2006,"month":8,"date":9},{"year":2006,"month":8,"date":10},{"year":2006,"month":8,"date":11},{"year":2006,"month":8,"date":12},{"year":2006,"month":8,"date":13},{"year":2006,"month":8,"date":14},{"year":2006,"month":8,"date":15},{"year":2006,"month":8,"date":16},{"year":2006,"month":8,"date":17}],"format":"%-m/%-d","labelAngle":270,"labelAlign":"left","labelBaseline":"middle","labelPadding":41,"tickSize":5,"labelFontSize":16,"grid":true,"title":null}},
    "y":{"field":"g","type":"quantitative","scale":{"domain":[-0.2,2.4],"nice":false,"zero":false},
     "axis":{"orient":"left","values":[-0.2,0,0.4,0.8,1.2,1.6,2,2.4],"labelExpr":"(datum.value > -0.1 && datum.value < 2.3 && abs(datum.value/0.8 - round(datum.value/0.8)) < 0.01) ? format(datum.value,'.1f') : ''","labelOverlap":false,"tickSize":7,"labelPadding":3,"labelFontSize":17,"grid":false,"title":null}},
    "detail":{"field":"s","type":"nominal"}}},
  {"data":{"name":"ns"},"transform":[{"filter":"datum.p == '78a'"}],"mark":{"type":"rect","fill":"#e4e4e6","stroke":"#666666","strokeWidth":1},
   "encoding":{"x":{"field":"a","type":"temporal","axis":null},"x2":{"field":"b"},"y":{"datum":-0.2,"type":"quantitative","axis":null},"y2":{"datum":2.4}}},
  {"data":{"values":[{}]},"mark":{"type":"rule","color":"#1a1a1a","strokeWidth":2},"encoding":{"y":{"datum":0,"type":"quantitative","axis":null}}},
  {"data":{"name":"s78a"},"mark":{"type":"line","color":"#1a1a1a","strokeWidth":2,"interpolate":"monotone"},
   "encoding":{"x":{"field":"t","type":"temporal","axis":null},"y":{"field":"e","type":"quantitative","axis":null},"detail":{"field":"s","type":"nominal"}}},
  {"data":{"values":[{}]},"mark":{"type":"rect","fill":"white"},
   "encoding":{"x":{"datum":{"year":2006,"month":8,"date":8,"hours":0,"minutes":40},"type":"temporal","axis":null},"x2":{"datum":{"year":2006,"month":8,"date":9,"hours":21}},"y":{"datum":1.67,"type":"quantitative","axis":null},"y2":{"datum":2.37}}},
  {"data":{"values":[{}]},"mark":{"type":"text","text":"Swale 78","align":"left","baseline":"middle","fontSize":18},
   "encoding":{"x":{"datum":{"year":2006,"month":8,"date":8,"hours":5},"type":"temporal","axis":null},"y":{"datum":2.03,"type":"quantitative","axis":null}}},
  {"data":{"name":"ns"},"transform":[{"filter":"datum.p == '78a'"}],"mark":{"type":"text","text":"not sign.","lineBreak":" ","lineHeight":19,"fontSize":15,"baseline":"middle"},
   "encoding":{"x":{"field":"m","type":"temporal","axis":null},"y":{"datum":1.1,"type":"quantitative","axis":null}}}
 ]},
{"width":443,"height":99,
 "resolve":{"axis":{"x":"independent","y":"independent"}},
 "layer":[
  {"data":{"name":"s78b"},"mark":{"type":"line","color":"#b3b3b3","strokeWidth":2,"interpolate":"monotone"},
   "encoding":{"x":{"field":"t","type":"temporal","scale":{"domain":[{"year":2007,"month":7,"date":29},{"year":2007,"month":8,"date":8}]},
     "axis":{"orient":"bottom","values":[{"year":2007,"month":7,"date":29},{"year":2007,"month":7,"date":30},{"year":2007,"month":7,"date":31},{"year":2007,"month":8,"date":1},{"year":2007,"month":8,"date":2},{"year":2007,"month":8,"date":3},{"year":2007,"month":8,"date":4},{"year":2007,"month":8,"date":5},{"year":2007,"month":8,"date":6},{"year":2007,"month":8,"date":7},{"year":2007,"month":8,"date":8}],"format":"%-m/%-d","labelAngle":270,"labelAlign":"left","labelBaseline":"middle","labelPadding":41,"tickSize":5,"labelFontSize":16,"grid":true,"title":"Date","titleX":0,"titleAlign":"center","titlePadding":10}},
    "y":{"field":"g","type":"quantitative","scale":{"domain":[-0.2,2.4],"nice":false,"zero":false},
     "axis":{"orient":"left","values":[-0.2,0,0.4,0.8,1.2,1.6,2,2.4],"labels":false,"tickSize":6,"grid":false,"title":null}},
    "detail":{"field":"s","type":"nominal"}}},
  {"data":{"values":[{}]},"mark":{"type":"rule","color":"#1a1a1a","strokeWidth":2},"encoding":{"y":{"datum":0,"type":"quantitative","axis":null}}},
  {"data":{"name":"s78b"},"mark":{"type":"line","color":"#1a1a1a","strokeWidth":2,"interpolate":"monotone"},
   "encoding":{"x":{"field":"t","type":"temporal","axis":null},"y":{"field":"e","type":"quantitative","axis":null},"detail":{"field":"s","type":"nominal"}}}
 ]}
]
}
